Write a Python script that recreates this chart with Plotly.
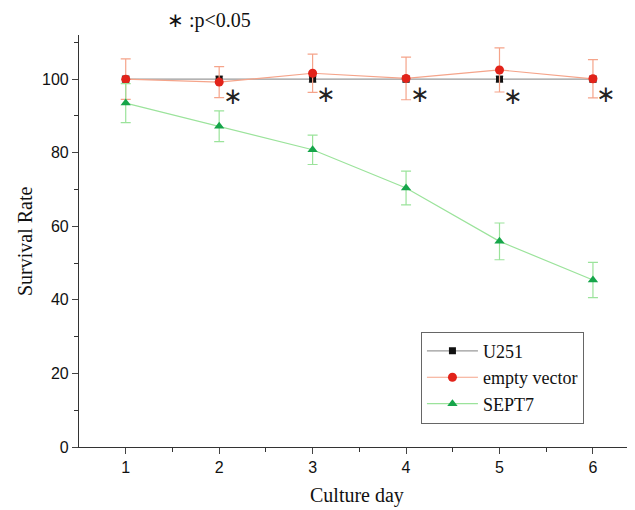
import plotly.graph_objects as go

days = [1, 2, 3, 4, 5, 6]
u251 = [100, 100, 100, 100, 100, 100]
u251_err = [0.8, 0.8, 0.8, 0.8, 0.8, 0.8]
empty_vec = [100, 99.2, 101.6, 100.2, 102.5, 100.1]
empty_err = [5.5, 4.2, 5.2, 5.8, 6.0, 5.2]
sept7 = [93.5, 87.2, 80.8, 70.4, 55.9, 45.4]
sept7_err = [5.3, 4.2, 4.0, 4.6, 5.0, 4.8]
star_y = [95.5, 96, 96, 95.5, 96]
star_days = [2, 3, 4, 5, 6]

fig = go.Figure()
fig.add_trace(go.Scatter(
    x=days, y=u251, name="U251", mode="lines+markers",
    line=dict(color="#9a9a9a", width=1.2),
    marker=dict(symbol="square", size=7, color="#111111"),
    error_y=dict(type="data", array=u251_err, color="#9a9a9a", thickness=1, width=4),
))
fig.add_trace(go.Scatter(
    x=days, y=empty_vec, name="empty vector", mode="lines+markers",
    line=dict(color="#f5a48a", width=1.2),
    marker=dict(symbol="circle", size=9, color="#e2231a"),
    error_y=dict(type="data", array=empty_err, color="#f5a48a", thickness=1.2, width=5),
))
fig.add_trace(go.Scatter(
    x=days, y=sept7, name="SEPT7", mode="lines+markers",
    line=dict(color="#9be39b", width=1.2),
    marker=dict(symbol="triangle-up", size=9, color="#16a54a"),
    error_y=dict(type="data", array=sept7_err, color="#9be39b", thickness=1.2, width=5),
))

for d, y in zip(star_days, star_y):
    fig.add_annotation(x=d, y=y, text="∗", showarrow=False, xshift=13,
                       font=dict(family="DejaVu Sans", size=23, color="#222"))

fig.add_annotation(xref="paper", yref="paper", x=0.155, y=1.036, text="∗ :p<0.05",
                   showarrow=False, xanchor="left", yanchor="middle",
                   font=dict(family="Liberation Serif", size=20, color="#111"))
fig.add_annotation(xref="paper", yref="paper", x=-0.097, y=0.5, text="Survival Rate",
                   textangle=-90, showarrow=False, xanchor="center", yanchor="middle",
                   font=dict(family="Liberation Serif", size=20, color="#111"))
fig.add_annotation(xref="paper", yref="paper", x=0.5, y=-0.117, text="Culture day",
                   showarrow=False, xanchor="center", yanchor="middle",
                   font=dict(family="Liberation Serif", size=20, color="#111"))

fig.update_layout(
    width=627, height=502,
    margin=dict(l=71, r=0, t=27, b=63, autoexpand=False),
    plot_bgcolor="white", paper_bgcolor="white",
    showlegend=True,
    legend=dict(x=0.615, y=0.28, xanchor="left", yanchor="top",
                bordercolor="#666", borderwidth=1, bgcolor="white",
                font=dict(family="Liberation Serif", size=18, color="#111"),
                tracegroupgap=0, itemwidth=51),
    xaxis=dict(range=[0.5, 6.45], tickvals=days, ticks="outside", ticklen=6, automargin=False,
               showline=True, linecolor="#333", linewidth=1.2, showgrid=False, zeroline=False,
               tickfont=dict(family="Liberation Sans", size=16, color="#111"),
               minor=dict(tickvals=[1.5, 2.5, 3.5, 4.5, 5.5], ticks="outside", ticklen=4, tickcolor="#333")),
    yaxis=dict(range=[0, 112], tickvals=[0, 20, 40, 60, 80, 100], ticks="outside", ticklen=6, automargin=False,
               showline=True, linecolor="#333", linewidth=1.2, showgrid=False, zeroline=False,
               tickfont=dict(family="Liberation Sans", size=16, color="#111"),
               minor=dict(tickvals=[10, 30, 50, 70, 90, 110], ticks="outside", ticklen=4, tickcolor="#333")),
)

fig.write_html("out.html")
